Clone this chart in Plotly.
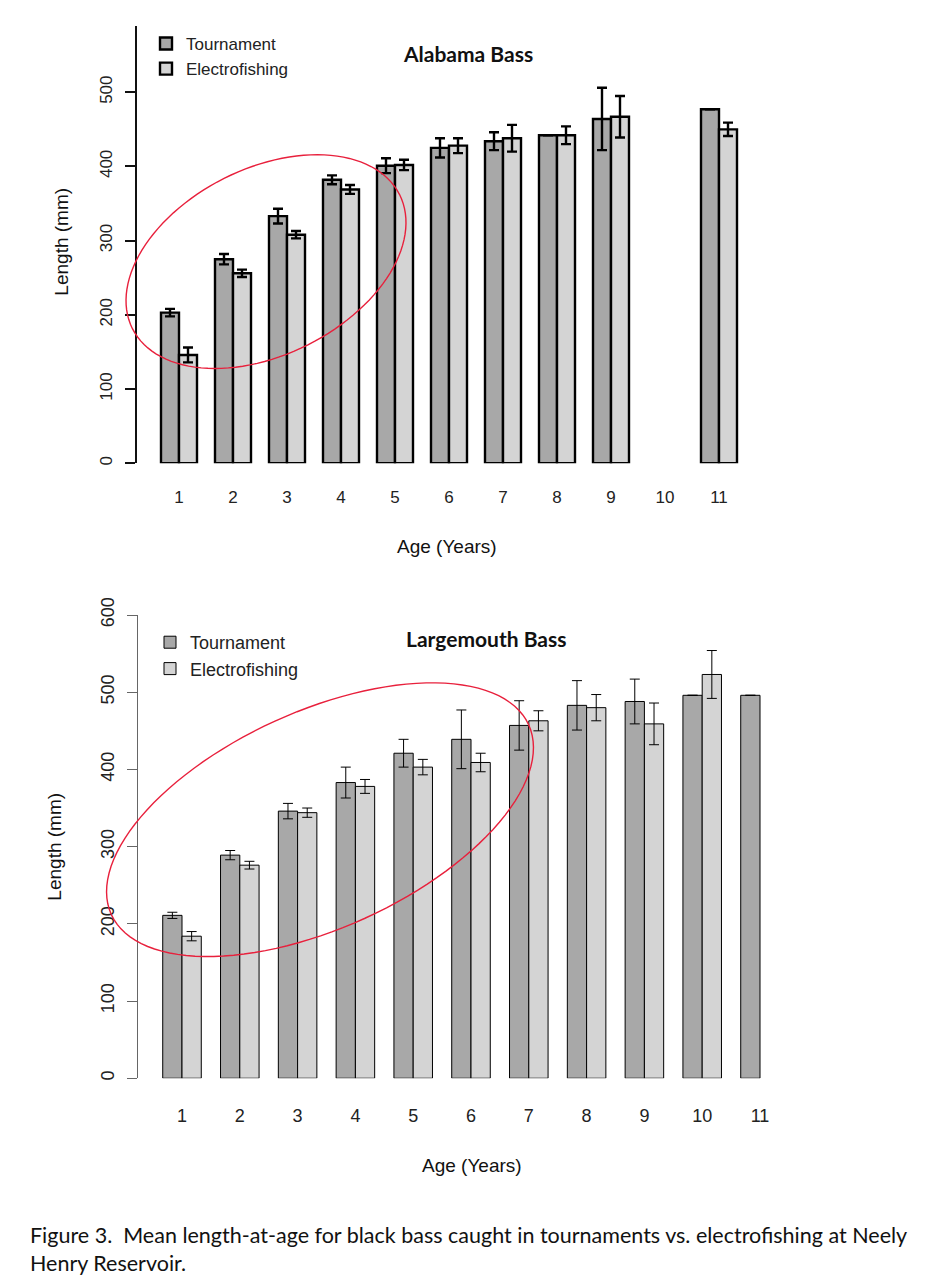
"""Mean length-at-age, tournament vs electrofishing, Neely Henry Reservoir (Figure 3).

Two stacked R-style barplots (Alabama Bass, Largemouth Bass) with SE bars and the
hand-drawn red ellipses from the report.
"""
import numpy as np
import plotly.graph_objects as go

PAGE_W, PAGE_H = 951, 1285
# where the figure lands in the photographed page: x = LEFT + px, y = TOP + SY * px
LEFT, TOP, SY = 8, 24, 0.986
W = PAGE_W - 2 * LEFT
H = int(round((PAGE_H - TOP) / SY))

AGES = list(range(1, 12))
AGE_LABELS = [str(a) for a in AGES]
Y_TICKS = [0, 100, 200, 300, 400, 500, 600]

# Alabama Bass
AL_TOURN = [203, 275, 333, 382, 401, 425, 434, 442, 464, None, 477]
AL_TOURN_ERR = [5, 7, 10, 6, 10, 13, 12, None, 42, None, None]
AL_ELEC = [146, 256, 308, 369, 402, 428, 438, 442, 467, None, 450]
AL_ELEC_ERR = [10, 5, 5, 6, 7, 10, 18, 12, 28, None, 9]

# Largemouth Bass
LM_TOURN = [211, 289, 346, 383, 421, 439, 457, 483, 488, 496, 496]
LM_TOURN_ERR = [4, 6, 10, 20, 18, 38, 32, 32, 29, None, None]
LM_ELEC = [184, 276, 344, 378, 403, 409, 463, 480, 459, 523, None]
LM_ELEC_ERR = [6, 5, 6, 9, 10, 12, 13, 17, 27, 31, None]

T_FILL = "#a8a8a8"
E_FILL = "#d4d4d4"
R_FONT = "Liberation Sans"
DOC_FONT = "Lato"


def px(xp, yp):
    """page pixel -> paper"""
    return (xp - LEFT) / W, 1 - ((yp - TOP) / SY) / H


# panel geometry in page pixels: y-axis x, first group centre, group step, y(0), y(600)
PANELS = [
    dict(axis_x=137, c1=179, step=54, right=765, y0=462, y600=16, lw=2.4,
         ax_col="#111", fs=17, lfs=17, stand=22, leg=(146, 24)),
    dict(axis_x=138, c1=182, step=57.8, right=820, y0=1078, y600=614, lw=1.0,
         ax_col="#666", fs=18, lfs=18, stand=25, leg=(150, 623)),
]

fig = go.Figure()
series = [
    (AL_TOURN, AL_TOURN_ERR, AL_ELEC, AL_ELEC_ERR),
    (LM_TOURN, LM_TOURN_ERR, LM_ELEC, LM_ELEC_ERR),
]
for i, (tv, te, ev, ee) in enumerate(series):
    p = PANELS[i]
    xa = "x" if i == 0 else "x2"
    ya = "y" if i == 0 else "y2"
    lg = "legend" if i == 0 else "legend2"
    for name, vals, errs, fill in [("Tournament", tv, te, T_FILL),
                                   ("Electrofishing", ev, ee, E_FILL)]:
        fig.add_trace(go.Bar(
            x=AGES, y=vals, name=name, xaxis=xa, yaxis=ya, legend=lg,
            marker=dict(color=fill, line=dict(color="#000", width=p["lw"])),
            error_y=dict(type="data", array=errs, visible=True, color="#000",
                         thickness=p["lw"] if i == 0 else 1.0, width=5),
        ))

for i, p in enumerate(PANELS):
    sfx = "" if i == 0 else "2"
    x0 = px(p["axis_x"], 0)[0]
    x1 = px(p["right"], 0)[0]
    r0 = 1 - (p["c1"] - p["axis_x"]) / p["step"]
    r1 = 1 + (p["right"] - p["c1"]) / p["step"]
    # y scale in page px per mm; clamp the top of the axis to the figure edge
    per = (p["y0"] - p["y600"]) / 600
    ytop = max(p["y600"], TOP)
    fig.layout["xaxis" + sfx] = dict(
        domain=[x0, x1], range=[r0, r1], tickvals=AGES, ticktext=AGE_LABELS,
        showline=False, showgrid=False, zeroline=False, ticks="",
        ticklabelstandoff=p["stand"],
        tickfont=dict(family=R_FONT, size=p["fs"], color="#222"),
        anchor="y" + sfx, fixedrange=True,
    )
    fig.layout["yaxis" + sfx] = dict(
        domain=[px(0, p["y0"])[1], min(1.0, px(0, ytop)[1])],
        range=[0, (p["y0"] - ytop) / per],
        tickvals=Y_TICKS, tickangle=-90, ticks="outside", ticklen=10,
        tickwidth=p["lw"], tickcolor=p["ax_col"], showline=True,
        linewidth=p["lw"], linecolor=p["ax_col"], showgrid=False, zeroline=False,
        ticklabelstandoff=6, tickfont=dict(family=R_FONT, size=p["fs"], color="#222"),
        anchor="x" + sfx, fixedrange=True,
    )

legend_common = dict(xanchor="left", yanchor="top", bgcolor="rgba(0,0,0,0)",
                     tracegroupgap=0, itemwidth=30)
legends = {}
for i, p in enumerate(PANELS):
    lx, ly = px(*p["leg"])
    legends["legend" if i == 0 else "legend2"] = dict(
        x=lx, y=min(1.0, ly),
        font=dict(family=R_FONT, size=p["lfs"], color="#222"), **legend_common)

fig.update_layout(
    width=W, height=H, margin=dict(l=0, r=0, t=0, b=0),
    paper_bgcolor="white", plot_bgcolor="white",
    barmode="group", bargap=1 / 3, bargroupgap=0,
    showlegend=True, **legends,
)

annots = [
    ("Alabama Bass", 468, 52, DOC_FONT, 21, True, 0),
    ("Largemouth Bass", 486, 638, DOC_FONT, 21, True, 0),
    ("Age (Years)", 447, 545, R_FONT, 19, False, 0),
    ("Age (Years)", 472, 1165, R_FONT, 19, False, 0),
    ("Length (mm)", 62, 240, R_FONT, 19, False, -90),
    ("Length (mm)", 55, 846, R_FONT, 19, False, -90),
]
for text, ax_, ay_, fam, size, bold, ang in annots:
    xp, yp = px(ax_, ay_)
    fig.add_annotation(text=f"<b>{text}</b>" if bold else text, x=xp, y=yp,
                       xref="paper", yref="paper", xanchor="center", yanchor="middle",
                       showarrow=False, textangle=ang,
                       font=dict(family=fam, size=size, color="#111"))

fig.add_annotation(
    text="Figure 3.  Mean length-at-age for black bass caught in tournaments vs. "
         "electrofishing at Neely<br>Henry Reservoir.",
    x=px(28, 0)[0], y=px(0, 1220)[1], xref="paper", yref="paper",
    xanchor="left", yanchor="top", align="left", showarrow=False,
    font=dict(family=DOC_FONT, size=21.5, color="#111"),
)

# hand-drawn red highlight ellipses: centre (px), semi-axes (px), tilt (deg)
ELLIPSES = [(266, 260, 149.5, 93.3, -26.7), (320, 819, 229.3, 108.5, -24.5)]
for cx, cy, a, b, th in ELLIPSES:
    t = np.linspace(0, 2 * np.pi, 121)
    r = np.radians(th)
    ex = cx + a * np.cos(r) * np.cos(t) - b * np.sin(r) * np.sin(t)
    ey = cy + a * np.sin(r) * np.cos(t) + b * np.cos(r) * np.sin(t)
    pts = [px(x_, y_) for x_, y_ in zip(ex, ey)]
    path = "M" + " L".join(f"{u:.5f},{v:.5f}" for u, v in pts) + " Z"
    fig.add_shape(type="path", path=path, xref="paper", yref="paper",
                  line=dict(color="#e8203c", width=1.4))

fig.write_html("out.html")
